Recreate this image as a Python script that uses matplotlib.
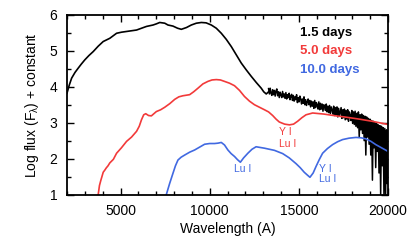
import numpy as np
import matplotlib
matplotlib.use("Agg")
import matplotlib.pyplot as plt

plt.rcParams["font.family"] = ["Liberation Sans", "DejaVu Sans"]
plt.rcParams["mathtext.fontset"] = "custom"
plt.rcParams["mathtext.rm"] = "Liberation Sans"

RED = "#f23a3a"
BLUE = "#4169e1"

# 1.5 days, smooth part
wave_15 = [2000, 2130, 2260, 2450, 2630, 2800, 3000, 3230, 3470, 3750, 4030,
           4400, 4780, 5060, 5340, 5900, 6455, 6825, 7000, 7200, 7480, 7660,
           7940, 8200, 8410, 8700, 8970, 9250, 9530, 9800, 10090, 10370,
           10650, 10930, 11210, 11490, 11770, 12050, 12330, 12610, 12890,
           13030, 13170, 13300]
flux_15 = [3.82, 4.05, 4.24, 4.40, 4.52, 4.63, 4.75, 4.87, 4.98, 5.13, 5.26,
           5.35, 5.49, 5.52, 5.54, 5.58, 5.68, 5.72, 5.75, 5.79, 5.77, 5.72,
           5.69, 5.63, 5.60, 5.65, 5.72, 5.77, 5.79, 5.78, 5.72, 5.63,
           5.49, 5.32, 5.12, 4.89, 4.66, 4.47, 4.29, 4.12, 3.96,
           3.86, 3.80, 3.86]
# 1.5 days, noisy tail from 13300 to 20000 A
tail_15 = [3.95, 3.80, 3.96, 3.82, 3.76, 3.92, 3.78, 3.90, 3.74, 3.88,
           3.94, 3.75, 3.86, 3.70, 3.85, 3.78, 3.70, 3.87, 3.72, 3.80,
           3.68, 3.84, 3.66, 3.78, 3.70, 3.82, 3.64, 3.74, 3.79, 3.62,
           3.76, 3.60, 3.72, 3.64, 3.78, 3.56, 3.70, 3.58, 3.74, 3.66,
           3.52, 3.66, 3.54, 3.72, 3.50, 3.64, 3.48, 3.58, 3.66, 3.50,
           3.62, 3.44, 3.60, 3.46, 3.58, 3.40, 3.62, 3.42, 3.56, 3.50,
           3.38, 3.58, 3.36, 3.54, 3.38, 3.52, 3.32, 3.50, 3.46, 3.34,
           3.52, 3.30, 3.46, 3.28, 3.48, 3.26, 3.44, 3.36, 3.24, 3.46,
           3.20, 3.42, 3.22, 3.44, 3.16, 3.40, 3.18, 3.30, 3.42, 3.12,
           3.36, 3.14, 3.38, 3.08, 3.34, 3.10, 3.36, 3.04, 3.30, 3.20,
           3.06, 3.34, 2.98, 3.30, 2.95, 3.32, 2.90, 3.26, 2.86, 3.30,
           2.60, 3.22, 2.80, 3.24, 2.70, 3.20, 2.50, 3.18, 2.10, 3.16,
           2.60, 3.12, 2.40, 3.10, 2.10, 3.06, 1.40, 3.04, 2.30, 3.00,
           1.75, 2.98, 2.20, 2.94, 1.60, 2.92, 1.00, 2.90, 1.80, 2.86,
           1.00, 2.84, 1.00, 2.80, 1.30, 2.78]

# 5.0 days
wave_50 = [3750, 3820, 3900, 3960, 4030, 4120, 4200, 4300, 4400, 4600, 4780,
           5050, 5340, 5620, 5900, 6050, 6175, 6300, 6415, 6570, 6730, 7010,
           7250, 7480, 7760, 8040, 8270, 8500, 8875, 9100, 9340, 9620, 9900,
           10130, 10370, 10600, 10830, 11110, 11390, 11670, 11950, 12230,
           12510, 12790, 13070, 13300, 13530, 13720, 13900, 14200, 14470,
           14700, 14930, 15170, 15400, 15770, 16400, 17080, 17700, 18380,
           19100, 20000]
flux_50 = [1.00, 1.25, 1.40, 1.50, 1.62, 1.68, 1.74, 1.80, 1.88, 1.98, 2.15,
           2.30, 2.48, 2.60, 2.76, 2.90, 3.08, 3.22, 3.25, 3.20, 3.19, 3.31,
           3.36, 3.43, 3.53, 3.65, 3.72, 3.75, 3.78, 3.86, 3.96, 4.08, 4.15,
           4.19, 4.20, 4.19, 4.15, 4.10, 4.03, 3.90, 3.73, 3.60,
           3.50, 3.43, 3.36, 3.30, 3.20, 3.10, 3.02, 2.96, 2.94,
           2.96, 3.04, 3.14, 3.22, 3.27, 3.24, 3.19, 3.15, 3.10,
           3.04, 2.95]

# 10.0 days
wave_100 = [7570, 7750, 7940, 8080, 8220, 8400, 8600, 8880, 9155, 9435, 9715,
            10000, 10270, 10460, 10650, 10830, 11020, 11200, 11390, 11560,
            11720, 11900, 12140, 12370, 12600, 13070, 13630, 14090, 14460,
            14840, 15070, 15300, 15480, 15620, 15800, 15960, 16150, 16330,
            16600, 16890, 17170, 17450, 17820, 18200, 18480, 18760, 19040,
            19310, 19600, 20000]
flux_100 = [1.00, 1.30, 1.59, 1.80, 1.96, 2.04, 2.10, 2.18, 2.24, 2.32, 2.40,
            2.42, 2.42, 2.43, 2.45, 2.38, 2.24, 2.14, 2.06, 1.97,
            1.90, 2.02, 2.15, 2.26, 2.33, 2.29, 2.23, 2.14, 2.02,
            1.86, 1.75, 1.62, 1.54, 1.48, 1.60, 1.78, 1.98, 2.15,
            2.28, 2.39, 2.47, 2.53, 2.57, 2.59, 2.58, 2.55, 2.48,
            2.39, 2.31, 2.20]

epochs = ["1.5 days", "5.0 days", "10.0 days"]
colors = ["black", RED, BLUE]


def main():
    fig = plt.figure(figsize=(4.2, 2.45), dpi=100)
    ax = fig.add_axes([0.1595, 0.206, 0.7645, 0.733])

    tail_wave = np.linspace(13300, 20000, len(tail_15))
    ax.plot(wave_15, flux_15, color="black", lw=1.2)
    ax.plot(tail_wave, tail_15, color="black", lw=1.1)
    ax.plot(wave_50, flux_50, color=RED, lw=1.2)
    ax.plot(wave_100, flux_100, color=BLUE, lw=1.2)

    # epoch labels
    for i, (label, c) in enumerate(zip(epochs, colors)):
        ax.text(15050, 5.5 - 0.51 * i, label, color=c, fontsize=9.5,
                fontweight="bold", va="center", ha="left")

    # line identifications
    ax.text(13900, 2.74, "Y I", color=RED, fontsize=7.5, va="center")
    ax.text(13900, 2.40, "Lu I", color=RED, fontsize=7.5, va="center")
    ax.text(11820, 1.71, "Lu I", color=BLUE, fontsize=7.5, va="center",
            ha="center")
    ax.text(16150, 1.71, "Y I", color=BLUE, fontsize=7.5, va="center")
    ax.text(16150, 1.42, "Lu I", color=BLUE, fontsize=7.5, va="center")

    ax.set_xlim(2000, 20000)
    ax.set_ylim(1, 6)
    ax.set_xticks([5000, 10000, 15000, 20000])
    ax.set_xticks(np.arange(2000, 20001, 1000), minor=True)
    ax.set_yticks([1, 2, 3, 4, 5, 6])
    ax.set_yticks(np.arange(1, 6.01, 0.5), minor=True)
    ax.tick_params(which="both", direction="in", top=True, right=True,
                   labelsize=10, width=1.0)
    ax.tick_params(which="major", length=5, pad=7)
    ax.tick_params(which="minor", length=3)
    for s in ax.spines.values():
        s.set_linewidth(1.3)

    ax.set_xlabel("Wavelength (A)", fontsize=10, labelpad=3)
    ax.set_ylabel("Log flux (F$_\\mathregular{λ}$) + constant", fontsize=10,
                  labelpad=6)

    fig.savefig("out.png", dpi=100)


if __name__ == "__main__":
    main()
